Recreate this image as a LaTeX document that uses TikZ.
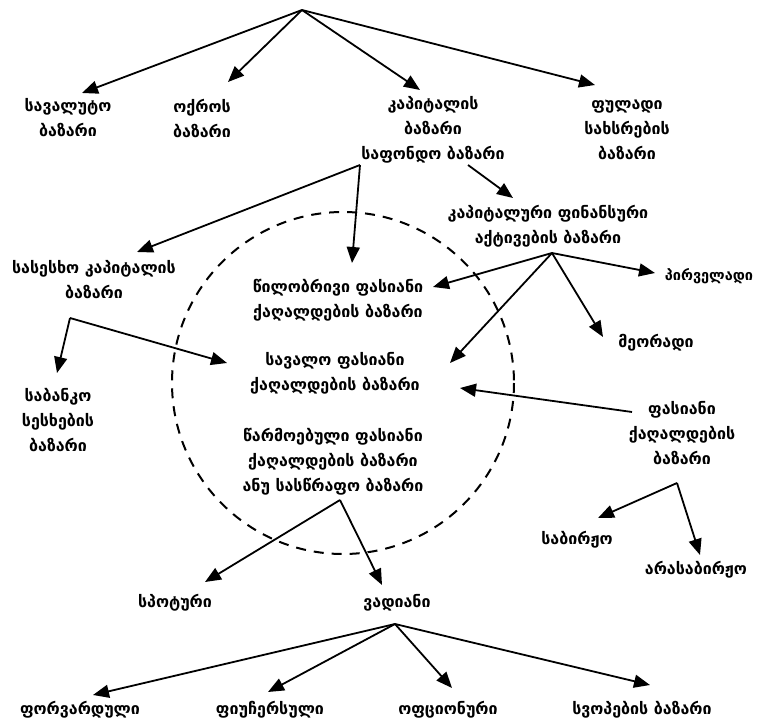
\documentclass[tikz,border=0pt]{standalone}
\usepackage{fontspec}
\newfontfamily\geo{DejaVu Sans}
\usetikzlibrary{arrows.meta}
\tikzset{
  lbl/.style={align=center, inner sep=0pt, font=\geo\bfseries\fontsize{16}{25}\selectfont},
  arr/.style={line width=1.8pt, -{Triangle[length=16pt,width=13pt]}},
  ring/.style={line width=2pt, dash pattern=on 10pt off 8pt}
}
\begin{document}
\begin{tikzpicture}[x=1pt,y=-1pt]
\useasboundingbox (0,0) rectangle (761,728);

% dashed boundary
\draw[ring] (343,383) circle (171);

% labels
\node[lbl] (savaluto) at (68,118) {სავალუტო\\ბაზარი};
\node[lbl] (oqros) at (202,118) {ოქროს\\ბაზარი};
\node[lbl] (kapitalis) at (433,130) {კაპიტალის\\ბაზარი\\საფონდო ბაზარი};
\node[lbl] (fuladi) at (627,130) {ფულადი\\სახსრების\\ბაზარი};
\node[lbl] (sasesxo) at (94,280) {სასესხო კაპიტალის\\ბაზარი};
\node[lbl] (tsilobrivi) at (338,300) {წილობრივი ფასიანი\\ქაღალდების ბაზარი};
\node[lbl] (kapitaluri) at (548,226) {კაპიტალური ფინანსური\\აქტივების ბაზარი};
\node[lbl, font=\geo\bfseries\fontsize{14.5}{25}\selectfont] (pirveladi) at (709,276) {პირველადი};
\node[lbl] (meoradi) at (656,343) {მეორადი};
\node[lbl] (sabanko) at (58,420) {საბანკო\\სესხების\\ბაზარი};
\node[lbl] (savalo) at (335,373) {სავალო ფასიანი\\ქაღალდების ბაზარი};
\node[lbl] (tsarmoebuli) at (333,462) {წარმოებული ფასიანი\\ქაღალდების ბაზარი\\ანუ სასწრაფო ბაზარი};
\node[lbl] (fasiani) at (682,433) {ფასიანი\\ქაღალდების\\ბაზარი};
\node[lbl] (sabirjo) at (577,540) {საბირჟო};
\node[lbl] (arasabirjo) at (696,570) {არასაბირჟო};
\node[lbl] (spoturi) at (175,603) {სპოტური};
\node[lbl] (vadiani) at (397,603) {ვადიანი};
\node[lbl] (forvarduli) at (80,710) {ფორვარდული};
\node[lbl] (fiuchersuli) at (270,710) {ფიუჩერსული};
\node[lbl] (opcionuri) at (448,710) {ოფციონური};
\node[lbl] (svopebi) at (642,710) {სვოპების ბაზარი};

% branching points
\coordinate (root) at (302,10);
\coordinate (stockA) at (360,165);
\coordinate (stockB) at (468,165);
\coordinate (kapB) at (552,253);
\coordinate (sasB) at (70,318);
\coordinate (fasL) at (632,412);
\coordinate (fasB) at (677,483);
\coordinate (tsB) at (340,500);
\coordinate (vadB) at (395,624);

% arrow tips
\coordinate (tSavaluto) at (82,93);
\coordinate (tOqros) at (228,82);
\coordinate (tKapitalis) at (420,90);
\coordinate (tFuladi) at (595,85);
\coordinate (tSasesxo) at (137,252);
\coordinate (tTsilobriviA) at (352,263);
\coordinate (tKapitaluri) at (513,198);
\coordinate (tTsilobriviB) at (433,287);
\coordinate (tSavaloA) at (450,363);
\coordinate (tPirveladi) at (655,273);
\coordinate (tMeoradi) at (603,337);
\coordinate (tSabanko) at (57,373);
\coordinate (tSavaloB) at (227,363);
\coordinate (tSavaloC) at (460,388);
\coordinate (tSabirjo) at (598,518);
\coordinate (tArasabirjo) at (700,555);
\coordinate (tSpoturi) at (205,582);
\coordinate (tVadiani) at (382,585);
\coordinate (tForvarduli) at (93,695);
\coordinate (tFiuchersuli) at (268,692);
\coordinate (tOpcionuri) at (452,688);
\coordinate (tSvopebi) at (650,685);

% connectors
\draw[arr] (root) -- (tSavaluto);
\draw[arr] (root) -- (tOqros);
\draw[arr] (root) -- (tKapitalis);
\draw[arr] (root) -- (tFuladi);
\draw[arr] (stockA) -- (tSasesxo);
\draw[arr] (stockA) -- (tTsilobriviA);
\draw[arr] (stockB) -- (tKapitaluri);
\draw[arr] (kapB) -- (tTsilobriviB);
\draw[arr] (kapB) -- (tSavaloA);
\draw[arr] (kapB) -- (tPirveladi);
\draw[arr] (kapB) -- (tMeoradi);
\draw[arr] (sasB) -- (tSabanko);
\draw[arr] (sasB) -- (tSavaloB);
\draw[arr] (fasL) -- (tSavaloC);
\draw[arr] (fasB) -- (tSabirjo);
\draw[arr] (fasB) -- (tArasabirjo);
\draw[arr] (tsB) -- (tSpoturi);
\draw[arr] (tsB) -- (tVadiani);
\draw[arr] (vadB) -- (tForvarduli);
\draw[arr] (vadB) -- (tFiuchersuli);
\draw[arr] (vadB) -- (tOpcionuri);
\draw[arr] (vadB) -- (tSvopebi);
\end{tikzpicture}
\end{document}
